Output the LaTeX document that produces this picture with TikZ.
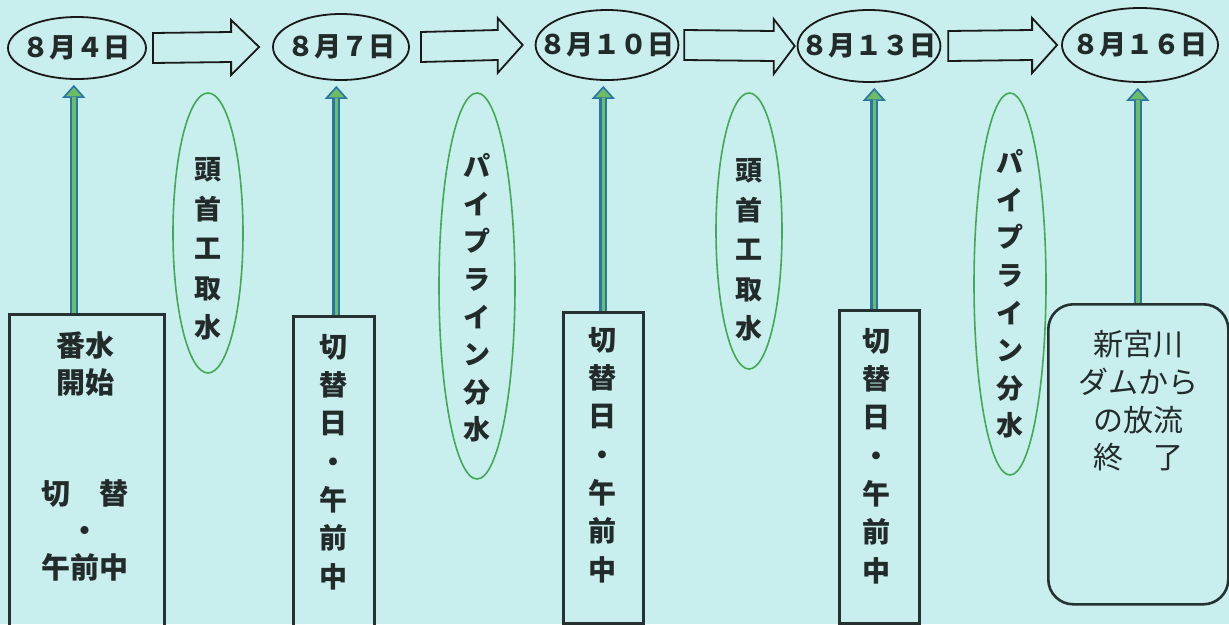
\documentclass[tikz,border=0pt]{standalone}
\usepackage{fontspec}
\setmainfont{Noto Sans CJK JP}
\usetikzlibrary{arrows.meta,shapes.geometric}

\definecolor{bgcol}{RGB}{200,238,238}
\definecolor{boxcol}{RGB}{38,50,50}
\definecolor{ovalgreen}{RGB}{64,170,84}
\definecolor{pipeblue}{RGB}{40,118,168}
\definecolor{pipegreen}{RGB}{110,188,100}
\definecolor{inkcol}{RGB}{35,42,42}

\tikzset{
	datenode/.style={draw=black!90,line width=1.8pt,ellipse,inner xsep=-17pt,inner ysep=0pt,text=inkcol,font=\fontsize{27}{30}\selectfont\bfseries},
	stepoval/.style={draw=ovalgreen,line width=1.6pt,ellipse,inner sep=0pt},
	boxnode/.style={draw=boxcol,line width=2.6pt,rectangle,inner sep=0pt,anchor=north west},
	vtext/.style={align=center,text=inkcol,inner sep=0pt},
	bigarrow/.style={draw=black!90,line width=1.8pt,line join=miter},
	uppipe/.style={draw=pipeblue,line width=8pt,-{Triangle[width=23pt,length=13pt,line width=1.6pt,fill=pipegreen]},shorten >=5pt},
	pipecore/.style={draw=pipegreen,line width=3.6pt,shorten >=17pt},
}

\begin{document}
\begin{tikzpicture}[x=1pt,y=-1pt]
	\useasboundingbox (0,0) rectangle (1229,624);
	\fill[bgcol] (0,0) rectangle (1229,624);
	\clip (0,0) rectangle (1229,624);
	% dates
	\node[datenode,minimum width=138pt,minimum height=62pt] (d1) at (77,48) {８月４日};
	\node[datenode,minimum width=136pt,minimum height=66pt] (d2) at (341,47) {８月７日};
	\node[datenode,minimum width=140pt,minimum height=70pt] (d3) at (607,45) {８月１０日};
	\node[datenode,minimum width=138pt,minimum height=72pt] (d4) at (869,46) {８月１３日};
	\node[datenode,minimum width=156pt,minimum height=74pt] (d5) at (1140,45) {８月１６日};
	% block arrows between dates
	\foreach \a/\b/\s/\t/\h in {d1/d2/6pt/-13pt/-41pt, d2/d3/11pt/-12pt/-37pt, d3/d4/5pt/-2pt/-23pt, d4/d5/7pt/-4pt/-29pt}{
		\draw[bigarrow] ([xshift=\s,yshift=15pt]\a.east) -- ([xshift=\h,yshift=15pt]\b.west)
			-- ([xshift=\h,yshift=27pt]\b.west) -- ([xshift=\t]\b.west)
			-- ([xshift=\h,yshift=-28pt]\b.west) -- ([xshift=\h,yshift=-15pt]\b.west)
			-- ([xshift=\s,yshift=-15pt]\a.east) -- cycle;
	}
	% green ovals
	\node[stepoval,minimum width=70pt,minimum height=280pt] (g1) at (208,233) {};
	\node[stepoval,minimum width=76pt,minimum height=386pt] (g2) at (477,286) {};
	\node[stepoval,minimum width=66pt,minimum height=276pt] (g3) at (749,231) {};
	\node[stepoval,minimum width=72pt,minimum height=382pt] (g4) at (1010,284) {};
	\node[vtext,font=\fontsize{27}{39.5}\selectfont\bfseries] (w1) at (208,249) {頭\\首\\工\\取\\水};
	\node[vtext,font=\fontsize{27}{37.6}\selectfont\bfseries] (w2) at (477,298) {パ\\イ\\プ\\ラ\\イ\\ン\\分\\水};
	\node[vtext,font=\fontsize{27}{39.5}\selectfont\bfseries] (w3) at (749,250) {頭\\首\\工\\取\\水};
	\node[vtext,font=\fontsize{27}{37.6}\selectfont\bfseries] (w4) at (1010,294) {パ\\イ\\プ\\ラ\\イ\\ン\\分\\水};
	% boxes
	\node[boxnode,minimum width=155pt,minimum height=340pt] (b1) at (8,313) {};
	\node[boxnode,minimum width=81pt,minimum height=340pt] (b2) at (292,315) {};
	\node[boxnode,minimum width=80pt,minimum height=311pt] (b3) at (562,311) {};
	\node[boxnode,minimum width=80pt,minimum height=313pt] (b4) at (838,309) {};
	\node[boxnode,minimum width=180pt,minimum height=300pt,rounded corners=25pt] (b5) at (1047,303) {};
	\node[vtext,font=\fontsize{29}{37}\selectfont\bfseries] (t1) at (85,456) {番水\\開始\\\\\\切　替\\・\\午前中};
	\node[vtext,font=\fontsize{28}{38.3}\selectfont\bfseries] (t2) at (333,462) {切\\替\\日\\・\\午\\前\\中};
	\node[vtext,font=\fontsize{28}{38.3}\selectfont\bfseries] (t3) at (602,455) {切\\替\\日\\・\\午\\前\\中};
	\node[vtext,font=\fontsize{28}{38.3}\selectfont\bfseries] (t4) at (876,456) {切\\替\\日\\・\\午\\前\\中};
	\node[vtext,font=\fontsize{30}{37.7}\selectfont] (t5) at (1138,401) {新宮川\\ダムから\\の放流\\終　了};
	% pipes up to dates
	\coordinate (a1) at ([xshift=-13pt]b1.north);
	\coordinate (a2) at ([xshift=2.5pt]b2.north);
	\coordinate (a3) at (b3.north);
	\coordinate (a4) at ([xshift=-5pt]b4.north);
	\coordinate (a5) at ([xshift=-0.5pt]b5.north);
	\foreach \i in {1,...,5}{
		\draw[uppipe] (a\i) -- (a\i |- d\i.south);
		\draw[pipecore] (a\i) -- (a\i |- d\i.south);
	}
\end{tikzpicture}
\end{document}
